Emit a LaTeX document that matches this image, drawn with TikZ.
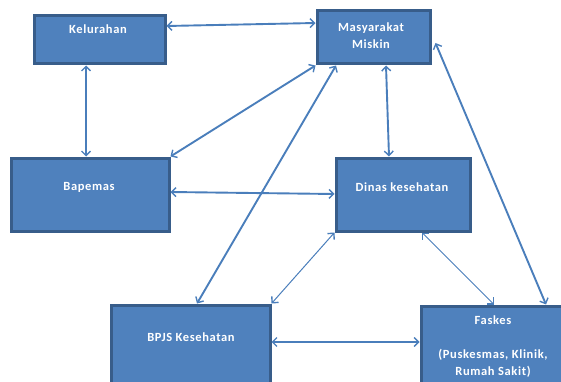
\documentclass[tikz,border=0pt]{standalone}
\usepackage{fontspec}
\setmainfont{Carlito}
\newfontfamily\lblfont[LetterSpace=5]{Carlito}
\usetikzlibrary{arrows.meta,calc}
\definecolor{boxfill}{HTML}{4F81BD}
\definecolor{boxborder}{HTML}{385D8A}
\definecolor{linkc}{HTML}{4A7EBB}
\tikzset{
  box/.style={draw=boxborder, fill=boxfill, line width=3pt, inner sep=0pt},
  lbl/.style={text=white, font=\lblfont\bfseries\fontsize{12.5}{17}\selectfont, align=center, inner sep=0pt},
  tip/.tip={Straight Barb[length=4.5pt,width=9pt,line width=1.4pt]},
  link/.style={draw=linkc, line width=1.9pt, tip-tip},
  thinlink/.style={draw=linkc, line width=1pt, tip-tip},
}
\begin{document}
\begin{tikzpicture}[x=1pt,y=-1pt]
\useasboundingbox (0,0) rectangle (561,382);
\clip (0,0) rectangle (561,382);
% boxes
\node[box, minimum width=131pt, minimum height=48pt] (kel) at (99.5,40) {};
\node[box, minimum width=113pt, minimum height=53pt] (mas) at (373.5,37.5) {};
\node[box, minimum width=158pt, minimum height=73pt] (bap) at (90,194.5) {};
\node[box, minimum width=134pt, minimum height=73pt] (din) at (403,194.5) {};
\node[box, minimum width=159pt, minimum height=87pt] (bpjs) at (190.5,348.5) {};
\node[box, minimum width=149pt, minimum height=86pt] (fas) at (495.5,349) {};
% labels
\node[lbl] (kelT) at (98,29) {Kelurahan};
\node[lbl] (masT) at (371,35.5) {Masyarakat\\Miskin};
\node[lbl] (bapT) at (89,187) {Bapemas};
\node[lbl] (dinT) at (402,187) {Dinas kesehatan};
\node[lbl] (bpjsT) at (191,337) {BPJS Kesehatan};
\node[lbl] (fasT) at (493,346.5) {Faskes\\[17pt](Puskesmas, Klinik,\\Rumah Sakit)};
% connectors
\draw[link] (kel.east |- 0,26) -- (mas.west |- 0,23);
\draw[link] (kel.south -| 86,0) -- (bap.north -| 86,0);
\draw[link] (mas.south west) -- (bap.north east);
\draw[link] (mas.south -| 336,0) -- (bpjs.north -| 197,0);
\draw[link] (mas.south -| 386,0) -- (din.north -| 389,0);
\draw[link] ($(mas.east |- 0,43)+(4,0)$) -- (fas.north -| 546,0);
\draw[link] (bap.east |- 0,192) -- (din.west |- 0,194);
\draw[thinlink] (din.south west) -- (bpjs.north east);
\draw[thinlink] (din.south -| 422,0) -- (fas.north -| 494,0);
\draw[link] (bpjs.east |- 0,342) -- (fas.west |- 0,342);
\end{tikzpicture}
\end{document}
